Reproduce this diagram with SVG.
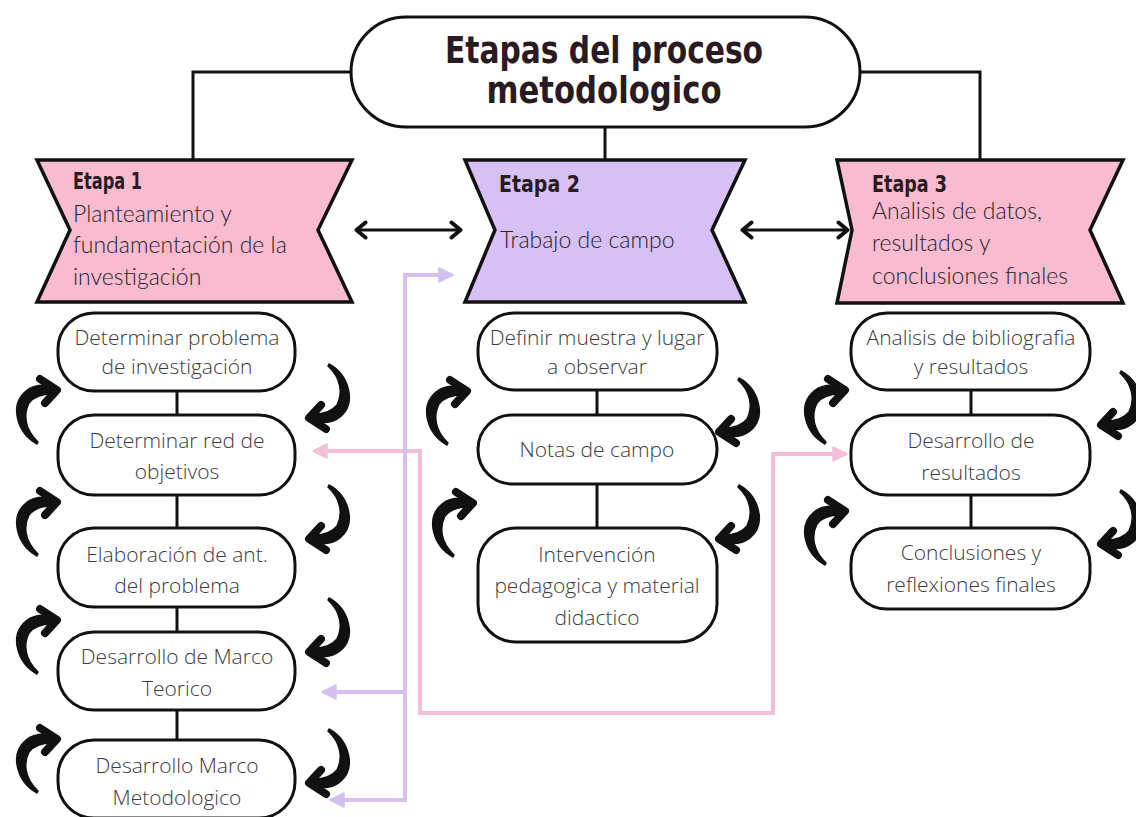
<svg xmlns="http://www.w3.org/2000/svg" width="1136" height="817" viewBox="0 0 1136 817">
<defs>
<style>
.stage{stroke:#111;stroke-width:3.5;stroke-linejoin:miter}
.pink{fill:#f8bbd0}
.lav{fill:#d7c0f4}
.node{fill:#fff;stroke:#111;stroke-width:3}
.ln{fill:none;stroke:#111;stroke-width:3}
.hd{font-family:"DejaVu Sans Condensed","DejaVu Sans",sans-serif;font-weight:bold;fill:#2a1a22}
.st{font-family:Lato,"Open Sans",sans-serif;font-weight:300;font-size:23px;fill:#2a2226}
.nt{font-family:"Open Sans","Noto Sans",sans-serif;font-weight:300;font-size:21px;fill:#3c3c3c;text-anchor:middle}
.pk{fill:none;stroke:#f3bfd7;stroke-width:4}
.pu{fill:none;stroke:#d4c0ef;stroke-width:4}
.cb{fill:#111;stroke:#111;stroke-width:1.5;stroke-linejoin:round}
.ch{fill:none;stroke:#111;stroke-width:8;stroke-linecap:round;stroke-linejoin:round}
</style>
<marker id="chev" viewBox="0 0 14 20" refX="12" refY="10" markerWidth="14" markerHeight="20" markerUnits="userSpaceOnUse" orient="auto-start-reverse">
<path d="M2.5,2.5 L11.5,10 L2.5,17.5" fill="none" stroke="#111" stroke-width="4" stroke-linecap="round" stroke-linejoin="round"/>
</marker>
<marker id="pkh" viewBox="0 0 16 16" refX="14" refY="8" markerWidth="16" markerHeight="16" markerUnits="userSpaceOnUse" orient="auto-start-reverse">
<path d="M1,1 L15,8 L1,15 Z" fill="#f3bfd7" stroke="#f3bfd7" stroke-width="1.5" stroke-linejoin="round"/>
</marker>
<marker id="puh" viewBox="0 0 16 16" refX="14" refY="8" markerWidth="16" markerHeight="16" markerUnits="userSpaceOnUse" orient="auto-start-reverse">
<path d="M1,1 L15,8 L1,15 Z" fill="#d4c0ef" stroke="#d4c0ef" stroke-width="1.5" stroke-linejoin="round"/>
</marker>
<g id="curl">
<path class="cb" d="M25,69 C5,58 -3,30 14,16 C20,11 28,9 40,11 L40,19 C28,19 21,23 17,28 C11,40 13,55 26,67 Z"/>
<path class="ch" d="M28,4 L45,15 L33,28"/>
</g>
</defs>
<rect width="1136" height="817" fill="#fff"/>

<g id="connectors">
<path class="ln" d="M351,72 H193 V160"/>
<path class="ln" d="M860,72 H980 V160"/>
<path class="ln" d="M605,127 V160"/>
<path class="ln" d="M356,230 H461" stroke-width="4" marker-start="url(#chev)" marker-end="url(#chev)"/>
<path class="ln" d="M742,230 H848" stroke-width="4" marker-start="url(#chev)" marker-end="url(#chev)"/>
<path class="ln" d="M177,391 V415 M177,495 V528 M177,607 V632 M177,710 V740"/>
<path class="ln" d="M597,390 V415 M597,484 V528"/>
<path class="ln" d="M971,390 V415 M971,495 V528"/>
<path class="pk" d="M314,451 H420 V713 H773 V454 H846" marker-start="url(#pkh)" marker-end="url(#pkh)"/>
<path class="pu" d="M331,800 H405 V275 H452" marker-start="url(#puh)" marker-end="url(#puh)"/>
<path class="pu" d="M403,692 H323" marker-end="url(#puh)"/>
</g>

<g id="curls">
<use href="#curl" transform="translate(12,375)"/>
<use href="#curl" transform="translate(12,487)"/>
<use href="#curl" transform="translate(12,605)"/>
<use href="#curl" transform="translate(12,724)"/>
<use href="#curl" transform="translate(306,363) rotate(180 24 35)"/>
<use href="#curl" transform="translate(306,484) rotate(180 24 35)"/>
<use href="#curl" transform="translate(306,597) rotate(180 24 35)"/>
<use href="#curl" transform="translate(306,728) rotate(180 24 35)"/>
<use href="#curl" transform="translate(422,376)"/>
<use href="#curl" transform="translate(428,488)"/>
<use href="#curl" transform="translate(716,377) rotate(180 24 35)"/>
<use href="#curl" transform="translate(716,484) rotate(180 24 35)"/>
<use href="#curl" transform="translate(800,375)"/>
<use href="#curl" transform="translate(800,496)"/>
<use href="#curl" transform="translate(1098,370) rotate(180 24 35)"/>
<use href="#curl" transform="translate(1098,489) rotate(180 24 35)"/>
</g>

<g id="title">
<rect class="node" x="351" y="17" width="509" height="110" rx="55" stroke-width="3.5"/>
<text class="hd" x="604" y="63" font-size="38" text-anchor="middle" textLength="318" lengthAdjust="spacingAndGlyphs" fill="#111">Etapas del proceso</text>
<text class="hd" x="604" y="103" font-size="38" text-anchor="middle" textLength="235" lengthAdjust="spacingAndGlyphs" fill="#111">metodologico</text>
</g>

<g id="etapa1">
<polygon class="stage pink" points="37,160 352,160 318,230 352,302 37,302 70,230"/>
<text class="hd" x="73" y="189" font-size="23" textLength="69" lengthAdjust="spacingAndGlyphs">Etapa 1</text>
<text class="st" x="73" y="222">Planteamiento y</text>
<text class="st" x="73" y="253">fundamentación de la</text>
<text class="st" x="73" y="285">investigación</text>
</g>

<g id="etapa2">
<polygon class="stage lav" points="465,160 745,160 712,230 745,302 465,302 495,230"/>
<text class="hd" x="499" y="192" font-size="23" textLength="81" lengthAdjust="spacingAndGlyphs">Etapa 2</text>
<text class="st" x="500" y="248">Trabajo de campo</text>
</g>

<g id="etapa3">
<polygon class="stage pink" points="837,160 1123,160 1090,230 1123,303 837,303 852,230"/>
<text class="hd" x="872" y="192" font-size="23" textLength="75" lengthAdjust="spacingAndGlyphs">Etapa 3</text>
<text class="st" x="872" y="219">Analisis de datos,</text>
<text class="st" x="872" y="251">resultados y</text>
<text class="st" x="872" y="284">conclusiones finales</text>
</g>

<g id="n1-1"><rect class="node" x="58" y="313" width="237" height="78" rx="36"/>
<text class="nt" x="177" y="345">Determinar problema</text><text class="nt" x="177" y="374">de investigación</text></g>
<g id="n1-2"><rect class="node" x="58" y="415" width="237" height="80" rx="36"/>
<text class="nt" x="177" y="448">Determinar red de</text><text class="nt" x="177" y="479">objetivos</text></g>
<g id="n1-3"><rect class="node" x="58" y="528" width="237" height="79" rx="36"/>
<text class="nt" x="177" y="562">Elaboración de ant.</text><text class="nt" x="177" y="593">del problema</text></g>
<g id="n1-4"><rect class="node" x="58" y="632" width="237" height="78" rx="36"/>
<text class="nt" x="177" y="664">Desarrollo de Marco</text><text class="nt" x="177" y="696">Teorico</text></g>
<g id="n1-5"><rect class="node" x="58" y="740" width="237" height="78" rx="36"/>
<text class="nt" x="177" y="773">Desarrollo Marco</text><text class="nt" x="177" y="805">Metodologico</text></g>

<g id="n2-1"><rect class="node" x="478" y="313" width="239" height="77" rx="36"/>
<text class="nt" x="597" y="345">Definir muestra y lugar</text><text class="nt" x="597" y="374">a observar</text></g>
<g id="n2-2"><rect class="node" x="478" y="415" width="239" height="69" rx="34"/>
<text class="nt" x="597" y="457">Notas de campo</text></g>
<g id="n2-3"><rect class="node" x="478" y="528" width="239" height="114" rx="38"/>
<text class="nt" x="597" y="562">Intervención</text><text class="nt" x="597" y="593">pedagogica y material</text><text class="nt" x="597" y="625">didactico</text></g>

<g id="n3-1"><rect class="node" x="851" y="313" width="239" height="77" rx="36"/>
<text class="nt" x="971" y="345">Analisis de bibliografia</text><text class="nt" x="971" y="374">y resultados</text></g>
<g id="n3-2"><rect class="node" x="851" y="415" width="239" height="80" rx="36"/>
<text class="nt" x="971" y="448">Desarrollo de</text><text class="nt" x="971" y="480">resultados</text></g>
<g id="n3-3"><rect class="node" x="851" y="528" width="239" height="81" rx="36"/>
<text class="nt" x="971" y="560">Conclusiones y</text><text class="nt" x="971" y="592">reflexiones finales</text></g>
</svg>
